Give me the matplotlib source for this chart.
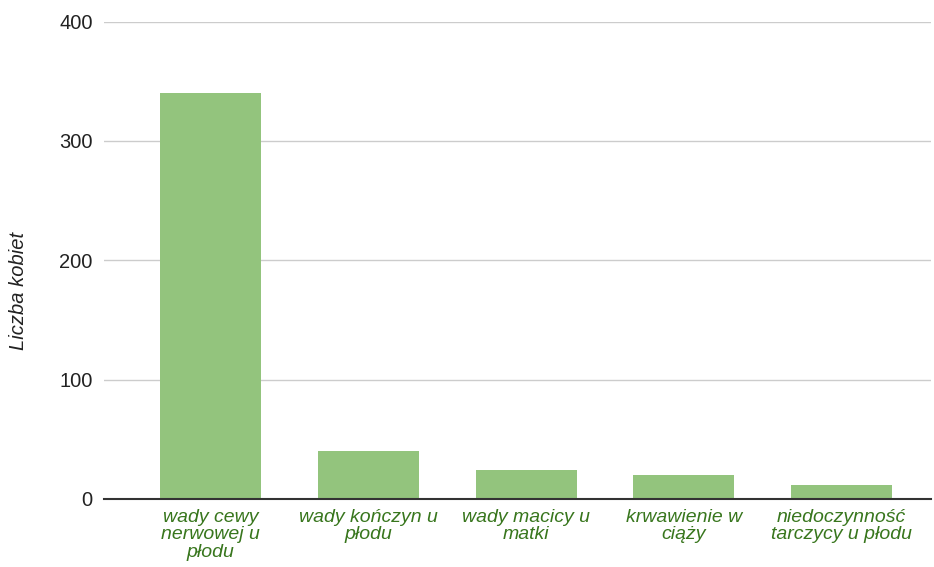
import matplotlib.pyplot as plt

plt.rcParams['font.family'] = ['Liberation Sans', 'DejaVu Sans']

categories = [
    "wady cewy\nnerwowej u\npłodu",
    "wady kończyn u\npłodu",
    "wady macicy u\nmatki",
    "krwawienie w\nciąży",
    "niedoczynność\ntarczycy u płodu",
]
counts = [340, 40, 24, 20, 12]
yticks = [0, 100, 200, 300, 400]

fig, ax = plt.subplots(figsize=(9.34, 5.67), dpi=100)
fig.subplots_adjust(left=0.111, right=0.997, top=0.962, bottom=0.12)

x = list(range(len(categories)))
ax.bar(x, counts, width=0.64, color="#93c47d", zorder=3)

ax.set_ylim(0, 400)
ax.set_xlim(-0.68, 4.57)
ax.set_yticks(yticks)
ax.set_yticklabels([str(v) for v in yticks], fontsize=14.5, color="#222222")
ax.set_xticks(x)
ax.set_xticklabels(categories, fontsize=14, style="italic", color="#38761d",
                   linespacing=1.05)
ax.tick_params(axis="x", length=0, pad=7)
ax.tick_params(axis="y", length=0, pad=8)

ax.grid(axis="y", color="#cccccc", linewidth=1, zorder=0)
for side in ["top", "right", "left"]:
    ax.spines[side].set_visible(False)
ax.spines["bottom"].set_color("#333333")
ax.spines["bottom"].set_linewidth(1.5)
ax.spines["bottom"].set_zorder(4)

fig.text(19 / 934, 1 - 291 / 567, "Liczba kobiet", rotation=90, fontsize=14.5,
         style="italic", color="#222222", ha="center", va="center")

fig.savefig("out.png")
